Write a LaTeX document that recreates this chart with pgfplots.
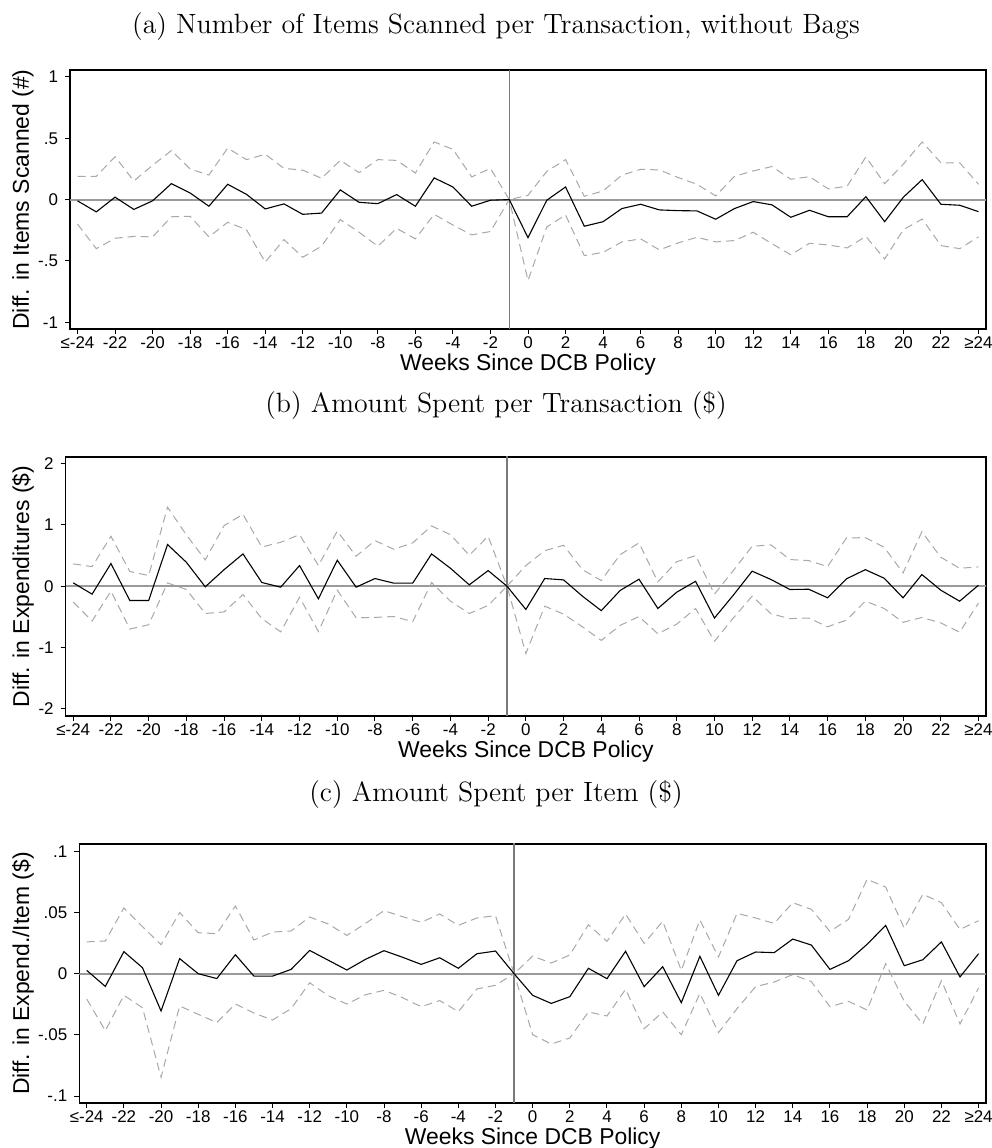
\documentclass[border=0pt]{standalone}
\usepackage{fontspec}
\usepackage{pgfplots}
\usepackage{pgfplotstable}
\pgfplotsset{compat=1.18}
\newfontfamily\arialfont{Liberation Sans}

\definecolor{cigray}{HTML}{A8A8A8}
\definecolor{zerogray}{HTML}{9A9A9A}
\definecolor{policygray}{HTML}{7A7A7A}

% week, estimate, upper and lower 95% bounds
\pgfplotstableread{
w b hi lo
-24 -0.010 0.190 -0.200
-23 -0.100 0.190 -0.400
-22 0.020 0.350 -0.315
-21 -0.080 0.152 -0.300
-20 -0.010 0.280 -0.304
-19 0.130 0.400 -0.140
-18 0.054 0.250 -0.136
-17 -0.054 0.200 -0.304
-16 0.125 0.420 -0.185
-15 0.043 0.326 -0.245
-14 -0.076 0.370 -0.510
-13 -0.035 0.255 -0.326
-12 -0.120 0.240 -0.470
-11 -0.110 0.174 -0.380
-10 0.079 0.320 -0.163
-9 -0.022 0.220 -0.266
-8 -0.033 0.326 -0.380
-7 0.041 0.320 -0.234
-6 -0.054 0.217 -0.320
-5 0.177 0.470 -0.120
-4 0.103 0.410 -0.207
-3 -0.054 0.185 -0.288
-2 -0.005 0.255 -0.260
-1 0 0 0
0 -0.310 0.035 -0.660
1 -0.005 0.230 -0.223
2 0.103 0.326 -0.125
3 -0.217 0.027 -0.457
4 -0.180 0.070 -0.430
5 -0.073 0.200 -0.345
6 -0.038 0.247 -0.320
7 -0.084 0.242 -0.410
8 -0.090 0.180 -0.353
9 -0.092 0.125 -0.307
10 -0.160 0.030 -0.345
11 -0.073 0.190 -0.334
12 -0.016 0.234 -0.266
13 -0.043 0.270 -0.360
14 -0.144 0.166 -0.450
15 -0.087 0.187 -0.356
16 -0.140 0.087 -0.370
17 -0.140 0.109 -0.394
18 0.024 0.348 -0.300
19 -0.180 0.130 -0.484
20 0.020 0.290 -0.245
21 0.163 0.470 -0.158
22 -0.038 0.300 -0.375
23 -0.046 0.300 -0.400
24 -0.098 0.125 -0.304
}\itemsdata

\pgfplotstableread{
w b hi lo
-24 0.054 0.364 -0.260
-23 -0.130 0.320 -0.570
-22 0.370 0.815 -0.080
-21 -0.234 0.240 -0.700
-20 -0.234 0.174 -0.630
-19 0.680 1.290 0.054
-18 0.390 0.837 -0.054
-17 -0.010 0.430 -0.446
-16 0.270 0.990 -0.420
-15 0.527 1.174 -0.136
-14 0.060 0.640 -0.530
-13 -0.016 0.717 -0.745
-12 0.337 0.842 -0.180
-11 -0.206 0.337 -0.740
-10 0.424 0.900 -0.065
-9 -0.016 0.490 -0.516
-8 0.125 0.745 -0.510
-7 0.049 0.603 -0.495
-6 0.049 0.707 -0.580
-5 0.527 0.984 0.060
-4 0.293 0.842 -0.245
-3 0.022 0.505 -0.446
-2 0.255 0.815 -0.315
-1 0 0 0
0 -0.380 0.337 -1.100
1 0.125 0.580 -0.326
2 0.103 0.668 -0.456
3 -0.163 0.270 -0.663
4 -0.400 0.092 -0.886
5 -0.070 0.516 -0.640
6 0.114 0.707 -0.495
7 -0.364 0.070 -0.777
8 -0.098 0.400 -0.620
9 0.080 0.500 -0.364
10 -0.520 -0.130 -0.900
11 -0.147 0.255 -0.520
12 0.245 0.652 -0.163
13 0.109 0.674 -0.450
14 -0.054 0.435 -0.530
15 -0.050 0.418 -0.520
16 -0.190 0.320 -0.663
17 0.120 0.788 -0.554
18 0.270 0.793 -0.245
19 0.130 0.636 -0.364
20 -0.190 0.217 -0.590
21 0.190 0.890 -0.510
22 -0.065 0.473 -0.600
23 -0.245 0.293 -0.750
24 0.016 0.315 -0.277
}\spenddata

\pgfplotstableread{
w b hi lo
-24 0.0027 0.0260 -0.0207
-23 -0.0104 0.0267 -0.0466
-22 0.0180 0.0537 -0.0177
-21 0.0049 0.0384 -0.0278
-20 -0.0305 0.0237 -0.0847
-19 0.0123 0.0500 -0.0264
-18 0.0000 0.0335 -0.0332
-17 -0.0040 0.0327 -0.0400
-16 0.0155 0.0553 -0.0248
-15 -0.0020 0.0275 -0.0322
-14 -0.0020 0.0340 -0.0379
-13 0.0035 0.0349 -0.0286
-12 0.0190 0.0463 -0.0074
-11 0.0110 0.0406 -0.0180
-10 0.0030 0.0313 -0.0248
-9 0.0117 0.0410 -0.0172
-8 0.0188 0.0515 -0.0136
-7 0.0134 0.0466 -0.0196
-6 0.0076 0.0420 -0.0270
-5 0.0130 0.0488 -0.0220
-4 0.0044 0.0395 -0.0310
-3 0.0163 0.0455 -0.0125
-2 0.0185 0.0474 -0.0095
-1 0 0 0
0 -0.0177 0.0144 -0.0499
1 -0.0243 0.0087 -0.0575
2 -0.0188 0.0153 -0.0526
3 0.0044 0.0400 -0.0313
4 -0.0041 0.0264 -0.0346
5 0.0183 0.0488 -0.0128
6 -0.0106 0.0248 -0.0450
7 0.0057 0.0428 -0.0313
8 -0.0237 0.0027 -0.0499
9 0.0142 0.0439 -0.0161
10 -0.0177 0.0136 -0.0482
11 0.0106 0.0493 -0.0286
12 0.0177 0.0455 -0.0106
13 0.0172 0.0411 -0.0068
14 0.0283 0.0580 -0.0008
15 0.0234 0.0526 -0.0065
16 0.0035 0.0346 -0.0270
17 0.0106 0.0444 -0.0226
18 0.0240 0.0771 -0.0297
19 0.0395 0.0708 0.0082
20 0.0065 0.0371 -0.0226
21 0.0114 0.0649 -0.0411
22 0.0260 0.0580 -0.0057
23 -0.0027 0.0362 -0.0411
24 0.0163 0.0433 -0.0117
}\peritemdata

\newcommand\labelfont{\arialfont\fontsize{11.5}{13}\selectfont}
\newcommand\titlefont{\fontsize{14}{16}\selectfont}

\pgfplotsset{
  eventstudy/.style={
    scale only axis,
    height=129.5bp,
    xmin=-24.4, xmax=24.4,
    axis line style={black, line width=0.6bp},
    tick align=outside,
    major tick length=2.5bp,
    tick style={black, line width=0.5bp},
    xtick pos=bottom, ytick pos=left,
    xtick={-24,-22,...,24},
    xticklabels={≤-24,-22,-20,-18,-16,-14,-12,-10,-8,-6,-4,-2,0,2,4,6,8,10,12,14,16,18,20,22,≥24},
    ticklabel style={font=\arialfont\fontsize{8.5}{10}\selectfont},
    xticklabel style={yshift=2bp},
    /pgf/number format/assume math mode=true,
    xlabel={Weeks Since DCB Policy},
    every axis x label/.style={at={(axis description cs:0.5,0)}, yshift=-18bp,
      anchor=center, font=\labelfont},
    clip=true,
  },
  ylabelat/.style={every axis y label/.style={at={(axis description cs:0,0.5)},
      xshift=-#1, rotate=90, anchor=center, font=\labelfont}},
  est/.style={black, line width=0.55bp, no markers},
  ci/.style={cigray, dash pattern=on 4bp off 2.5bp, line width=0.5bp, no markers},
  zeroline/.style={zerogray, line width=1bp, no markers},
  policyline/.style={policygray, line width=0.7bp, no markers},
}

\begin{document}
\begin{tikzpicture}
\path[use as bounding box] (0,0) rectangle (496bp,574bp);

% (a) items scanned
\node[anchor=base, font=\titlefont] at (248bp,557bp)
  {(a) Number of Items Scanned per Transaction, without Bags};
\begin{axis}[eventstudy, at={(35bp,539bp)}, anchor=north west, width=458bp,
    ymin=-1.055, ymax=1.057,
    ytick={-1,-0.5,0,0.5,1}, yticklabels={-1,-.5,0,.5,1},
    ylabel={Diff. in Items Scanned (\#)}, ylabelat=23.5bp]
  \addplot[zeroline] coordinates {(-24.4,0) (24.4,0)};
  \addplot[policyline] coordinates {(-1,-1.06) (-1,1.06)};
  \addplot[ci] table[x=w, y=hi] {\itemsdata};
  \addplot[ci] table[x=w, y=lo] {\itemsdata};
  \addplot[est] table[x=w, y=b] {\itemsdata};
\end{axis}

% (b) amount per transaction
\node[anchor=base, font=\titlefont] at (248bp,367.5bp)
  {(b) Amount Spent per Transaction (\$)};
\begin{axis}[eventstudy, at={(32.85bp,345.5bp)}, anchor=north west, width=460.15bp,
    ymin=-2.12, ymax=2.11,
    ytick={-2,-1,0,1,2},
    ylabel={Diff. in Expenditures (\$)}, ylabelat=21.35bp]
  \addplot[zeroline] coordinates {(-24.4,0) (24.4,0)};
  \addplot[policyline] coordinates {(-1,-2.2) (-1,2.2)};
  \addplot[ci] table[x=w, y=hi] {\spenddata};
  \addplot[ci] table[x=w, y=lo] {\spenddata};
  \addplot[est] table[x=w, y=b] {\spenddata};
\end{axis}

% (c) amount per item
\node[anchor=base, font=\titlefont] at (248bp,173bp)
  {(c) Amount Spent per Item (\$)};
\begin{axis}[eventstudy, at={(39.65bp,152bp)}, anchor=north west, width=453.35bp,
    ymin=-0.1057, ymax=0.106,
    ytick={-0.1,-0.05,0,0.05,0.1}, yticklabels={-.1,-.05,0,.05,.1},
    ylabel={Diff. in Expend./Item (\$)}, ylabelat=28.15bp]
  \addplot[zeroline] coordinates {(-24.4,0) (24.4,0)};
  \addplot[policyline] coordinates {(-1,-0.11) (-1,0.11)};
  \addplot[ci] table[x=w, y=hi] {\peritemdata};
  \addplot[ci] table[x=w, y=lo] {\peritemdata};
  \addplot[est] table[x=w, y=b] {\peritemdata};
\end{axis}
\end{tikzpicture}
\end{document}
